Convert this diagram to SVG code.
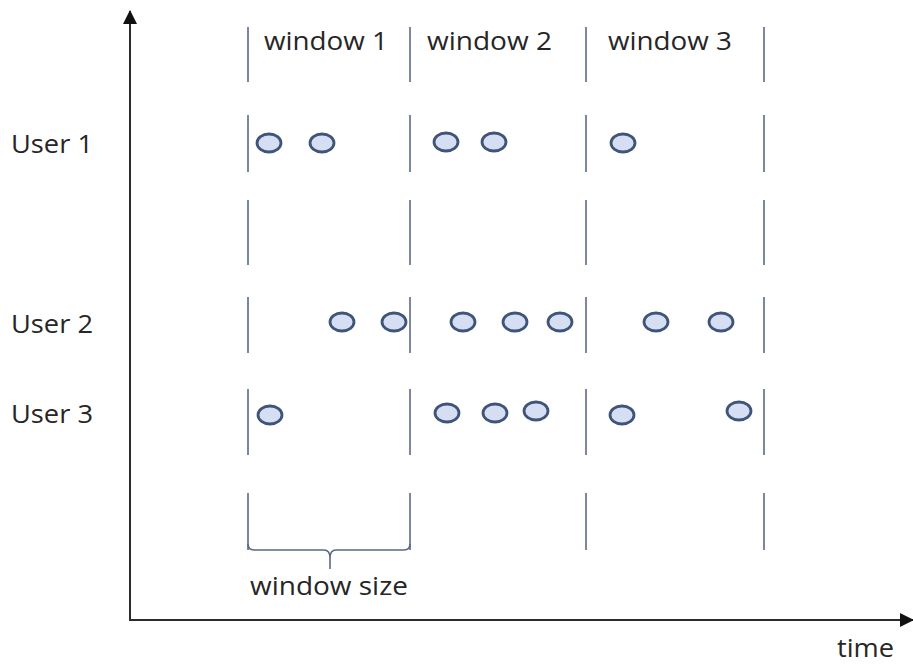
<svg xmlns="http://www.w3.org/2000/svg" width="913" height="664" viewBox="0 0 913 664">
  <style>
    .lbl { font-family: "Open Sans", "Liberation Sans", sans-serif; font-size: 26px; fill: #262626; }
    .axis { stroke: #2b2b2b; stroke-width: 2; fill: none; }
    .div { stroke: #5b6985; stroke-width: 1.6; fill: none; }
    .ev { fill: #d5def3; stroke: #3f5577; stroke-width: 2.8; }
  </style>
  <defs>
    <marker id="arrow" viewBox="0 0 14 14" refX="13" refY="7" markerWidth="14" markerHeight="14" markerUnits="userSpaceOnUse" orient="auto">
      <path d="M0,0 L14,7 L0,14 Z" fill="#111"/>
    </marker>
    <!-- one column of window boundary segments -->
    <g id="boundary">
      <line class="div" x1="0" y1="27" x2="0" y2="82"/>
      <line class="div" x1="0" y1="115" x2="0" y2="172"/>
      <line class="div" x1="0" y1="200" x2="0" y2="265"/>
      <line class="div" x1="0" y1="297" x2="0" y2="353"/>
      <line class="div" x1="0" y1="389" x2="0" y2="455"/>
      <line class="div" x1="0" y1="493" x2="0" y2="550"/>
    </g>
  </defs>

  <rect width="913" height="664" fill="#fff"/>

  <!-- axes -->
  <g id="axes">
    <line class="axis" x1="130" y1="621" x2="130" y2="11" marker-end="url(#arrow)"/>
    <line class="axis" x1="129" y1="620" x2="913" y2="620" marker-end="url(#arrow)"/>
    <text class="lbl" x="837" y="657" textLength="57" lengthAdjust="spacingAndGlyphs">time</text>
  </g>

  <!-- window boundaries -->
  <g id="boundaries">
    <use href="#boundary" x="248"/>
    <use href="#boundary" x="410"/>
    <use href="#boundary" x="586"/>
    <use href="#boundary" x="764"/>
  </g>

  <!-- window titles -->
  <g id="window-labels">
    <text class="lbl" x="264" y="50" textLength="124" lengthAdjust="spacingAndGlyphs">window 1</text>
    <text class="lbl" x="427" y="50" textLength="125" lengthAdjust="spacingAndGlyphs">window 2</text>
    <text class="lbl" x="608" y="50" textLength="124" lengthAdjust="spacingAndGlyphs">window 3</text>
  </g>

  <!-- user rows -->
  <g id="user-labels">
    <text class="lbl" x="11" y="153" textLength="82" lengthAdjust="spacingAndGlyphs">User 1</text>
    <text class="lbl" x="11" y="333" textLength="82" lengthAdjust="spacingAndGlyphs">User 2</text>
    <text class="lbl" x="11" y="423" textLength="82" lengthAdjust="spacingAndGlyphs">User 3</text>
  </g>

  <!-- events -->
  <g id="user1-events">
    <ellipse class="ev" cx="269" cy="143" rx="12" ry="9"/>
    <ellipse class="ev" cx="322" cy="143" rx="12" ry="9"/>
    <ellipse class="ev" cx="446" cy="142" rx="12" ry="9"/>
    <ellipse class="ev" cx="494" cy="142" rx="12" ry="9"/>
    <ellipse class="ev" cx="623" cy="143" rx="12" ry="9"/>
  </g>
  <g id="user2-events">
    <ellipse class="ev" cx="342" cy="322" rx="12" ry="9"/>
    <ellipse class="ev" cx="394" cy="322" rx="12" ry="9"/>
    <ellipse class="ev" cx="463" cy="322" rx="12" ry="9"/>
    <ellipse class="ev" cx="515" cy="322" rx="12" ry="9"/>
    <ellipse class="ev" cx="560" cy="322" rx="12" ry="9"/>
    <ellipse class="ev" cx="656" cy="322" rx="12" ry="9"/>
    <ellipse class="ev" cx="721" cy="322" rx="12" ry="9"/>
  </g>
  <g id="user3-events">
    <ellipse class="ev" cx="270" cy="415" rx="12" ry="9"/>
    <ellipse class="ev" cx="447" cy="413" rx="12" ry="9"/>
    <ellipse class="ev" cx="495" cy="413" rx="12" ry="9"/>
    <ellipse class="ev" cx="536" cy="411" rx="12" ry="9"/>
    <ellipse class="ev" cx="622" cy="415" rx="12" ry="9"/>
    <ellipse class="ev" cx="739" cy="411" rx="12" ry="9"/>
  </g>

  <!-- window size brace -->
  <g id="window-size">
    <path class="div" d="M248,544 Q248,550 254,550 L324,550 Q330,550 330,558 L330,569 M330,558 Q330,550 336,550 L404,550 Q410,550 410,544"/>
    <text class="lbl" x="250" y="595" textLength="158" lengthAdjust="spacingAndGlyphs">window size</text>
  </g>
</svg>
